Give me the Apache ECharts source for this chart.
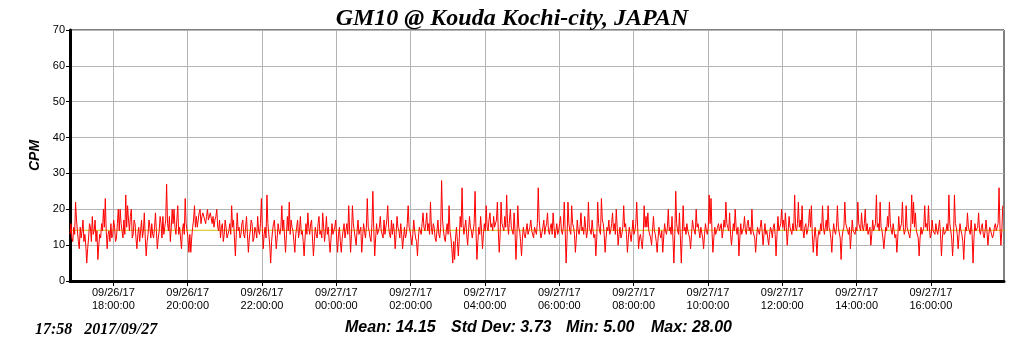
<!DOCTYPE html>
<html>
<head>
<meta charset="utf-8">
<title>GM10 @ Kouda Kochi-city, JAPAN</title>
<script src="https://cdn.jsdelivr.net/npm/echarts@6/dist/echarts.min.js"></script>
<style>
  html, body { margin: 0; padding: 0; background: #fff; }
  #container { width: 1024px; height: 351px; }
</style>
</head>
<body>
<div id="container"></div>
<script>
// counts per minute, one reading every 1.5 minutes from 09/26 16:50
var startTime = new Date(2017, 8, 26, 16, 50).getTime();
var endTime = new Date(2017, 8, 27, 17, 58).getTime();
var stepMinutes = 1.5;
var cpmValues = [
    13, 16, 12, 11, 15, 13, 22, 17, 14, 11, 9, 15, 12, 14, 17, 11, 13, 10, 5, 9,
    12, 16, 15, 11, 18, 13, 14, 17, 11, 14, 6, 10, 13, 12, 16, 14, 20, 15, 23, 14,
    9, 13, 14, 11, 16, 12, 13, 17, 15, 11, 12, 16, 20, 14, 20, 16, 14, 12, 17, 13,
    24, 15, 21, 17, 14, 18, 20, 12, 13, 17, 16, 12, 9, 13, 15, 11, 14, 17, 12, 14,
    19, 12, 7, 11, 13, 17, 15, 12, 16, 13, 12, 15, 19, 14, 9, 12, 14, 18, 16, 12,
    18, 13, 15, 17, 27, 16, 14, 18, 11, 15, 20, 16, 20, 15, 13, 17, 21, 13, 15, 12,
    9, 14, 16, 13, 23, 16, 14, 12, 8, 13, 8, 12, 15, 17, 21, 15, 18, 15, 17, 19,
    20, 16, 18, 19, 19, 17, 16, 18, 20, 17, 17, 19, 19, 16, 18, 15, 17, 18, 20, 15,
    14, 17, 12, 15, 16, 11, 13, 17, 15, 12, 12, 14, 16, 13, 21, 15, 17, 12, 7, 13,
    19, 14, 15, 12, 13, 16, 17, 13, 12, 15, 18, 13, 8, 12, 14, 17, 16, 11, 12, 15,
    14, 12, 18, 14, 13, 16, 23, 15, 9, 13, 15, 12, 24, 16, 13, 10, 5, 11, 14, 16,
    17, 13, 9, 12, 16, 14, 13, 15, 21, 14, 17, 12, 8, 13, 18, 14, 22, 13, 17, 15,
    14, 11, 8, 13, 15, 17, 12, 14, 18, 13, 14, 11, 7, 12, 16, 13, 19, 15, 13, 16,
    17, 12, 7, 11, 15, 13, 12, 16, 18, 13, 14, 12, 19, 15, 11, 14, 18, 13, 15, 11,
    8, 12, 16, 13, 13, 15, 17, 12, 8, 13, 15, 11, 8, 12, 14, 16, 12, 14, 16, 13,
    21, 14, 8, 13, 21, 16, 14, 12, 10, 14, 17, 13, 13, 15, 8, 12, 16, 14, 12, 15,
    23, 15, 14, 12, 11, 16, 25, 14, 7, 12, 16, 13, 13, 15, 18, 14, 14, 12, 17, 13,
    15, 17, 21, 15, 13, 12, 17, 13, 16, 14, 9, 13, 18, 15, 14, 12, 16, 13, 9, 12,
    15, 12, 13, 16, 21, 15, 14, 12, 10, 13, 17, 14, 12, 11, 7, 12, 15, 14, 13, 16,
    19, 15, 14, 16, 19, 14, 16, 13, 22, 15, 13, 16, 15, 12, 11, 14, 17, 13, 12, 15,
    28, 17, 14, 12, 11, 14, 16, 13, 21, 14, 12, 9, 5, 11, 6, 12, 15, 11, 7, 12,
    18, 15, 26, 16, 13, 15, 17, 13, 10, 14, 18, 15, 14, 12, 12, 16, 25, 14, 6, 11,
    15, 13, 18, 14, 9, 13, 16, 14, 21, 15, 14, 17, 19, 15, 16, 14, 18, 15, 15, 17,
    22, 14, 8, 13, 22, 16, 16, 14, 18, 15, 24, 16, 13, 17, 20, 15, 15, 13, 19, 14,
    6, 12, 21, 15, 14, 11, 7, 12, 15, 13, 12, 14, 16, 13, 13, 15, 17, 14, 14, 12,
    15, 14, 13, 16, 26, 17, 14, 12, 12, 15, 17, 13, 15, 16, 19, 14, 13, 15, 16, 13,
    19, 15, 12, 14, 16, 13, 14, 16, 18, 14, 13, 15, 22, 14, 5, 12, 22, 16, 14, 13,
    21, 16, 15, 13, 8, 12, 17, 14, 13, 15, 19, 14, 15, 13, 18, 15, 12, 14, 22, 15,
    15, 13, 17, 14, 12, 13, 7, 12, 22, 16, 14, 13, 23, 17, 16, 13, 8, 12, 15, 14,
    17, 13, 14, 16, 19, 14, 16, 13, 20, 15, 10, 13, 15, 12, 13, 15, 21, 15, 16, 13,
    8, 12, 15, 13, 11, 14, 17, 13, 14, 16, 22, 15, 9, 12, 13, 11, 9, 13, 21, 15,
    18, 15, 19, 14, 14, 12, 10, 14, 18, 14, 13, 11, 8, 12, 15, 13, 12, 14, 8, 12,
    16, 14, 13, 15, 20, 14, 15, 13, 18, 12, 5, 13, 25, 16, 14, 13, 19, 12, 5, 13,
    21, 14, 15, 13, 16, 14, 13, 12, 9, 13, 17, 15, 14, 13, 20, 15, 16, 14, 12, 15,
    15, 12, 9, 13, 16, 14, 13, 15, 24, 16, 23, 14, 8, 12, 15, 13, 13, 15, 16, 14,
    14, 16, 12, 14, 17, 15, 22, 16, 15, 14, 19, 13, 10, 13, 16, 14, 20, 15, 13, 15,
    7, 12, 16, 13, 14, 15, 18, 14, 13, 16, 17, 14, 15, 13, 20, 14, 14, 12, 8, 12,
    15, 14, 13, 15, 17, 14, 10, 13, 16, 13, 14, 12, 10, 13, 15, 14, 12, 15, 16, 13,
    7, 13, 18, 14, 15, 16, 20, 15, 17, 14, 19, 15, 10, 14, 18, 15, 15, 13, 16, 14,
    24, 15, 14, 16, 22, 15, 17, 14, 21, 14, 12, 15, 16, 13, 14, 16, 20, 15, 21, 13,
    8, 12, 15, 12, 7, 12, 14, 13, 16, 14, 21, 15, 13, 15, 17, 14, 21, 15, 14, 12,
    8, 13, 16, 14, 13, 15, 21, 15, 15, 12, 6, 12, 14, 15, 22, 16, 16, 14, 13, 15,
    9, 13, 17, 14, 14, 13, 15, 14, 22, 16, 15, 14, 19, 15, 14, 16, 20, 14, 16, 13,
    13, 15, 10, 13, 17, 14, 15, 16, 24, 15, 16, 14, 22, 15, 14, 12, 9, 12, 15, 14,
    18, 15, 22, 16, 14, 13, 16, 14, 12, 13, 8, 12, 18, 14, 15, 16, 22, 15, 13, 14,
    21, 15, 15, 13, 12, 15, 24, 16, 22, 15, 19, 14, 14, 12, 7, 12, 15, 13, 13, 15,
    21, 15, 16, 14, 21, 15, 12, 13, 17, 14, 14, 13, 16, 14, 13, 15, 17, 13, 7, 12,
    15, 13, 13, 14, 16, 14, 24, 16, 14, 12, 7, 12, 24, 16, 15, 13, 9, 13, 16, 14,
    13, 11, 6, 12, 15, 14, 19, 15, 14, 13, 17, 13, 5, 12, 16, 14, 14, 15, 19, 14,
    13, 15, 16, 13, 12, 14, 17, 14, 10, 13, 15, 14, 14, 12, 13, 15, 16, 14, 14, 16,
    26, 15, 10, 14, 21
];
// x ticks every two hours, 09/26 18:00 .. 09/27 16:00
var tickTimes = [];
for (var h = 18; h <= 40; h += 2) {
    tickTimes.push(new Date(2017, 8, 26, h, 0).getTime());
}
var yTicks = [0, 10, 20, 30, 40, 50, 60, 70];
var statMean = 14.15;
var statStdDev = 3.73;
var statMin = 5.00;
var statMax = 28.00;
var stampText = "17:58   2017/09/27";

function pad2(n) {
    return (n < 10 ? "0" : "") + n;
}
function fmtTick(value) {
    var d = new Date(value);
    return pad2(d.getMonth() + 1) + "/" + pad2(d.getDate()) + "/" + pad2(d.getFullYear() % 100) +
        "\n" + pad2(d.getHours()) + ":" + pad2(d.getMinutes()) + ":" + pad2(d.getSeconds());
}
function statText(s) {
    return { text: s, fontFamily: "Liberation Sans", fontStyle: "italic", fontWeight: "bold", fontSize: 16, fill: "#000" };
}

var cpmData = [];
for (var i = 0; i < cpmValues.length; i++) {
    cpmData.push([startTime + i * stepMinutes * 60000, cpmValues[i]]);
}
var meanData = [[startTime, statMean], [endTime, statMean]];

var dom = document.getElementById("container");
var myChart = echarts.init(dom, null, { renderer: "canvas" });
var option = {
    animation: false,
    backgroundColor: "#fff",
    title: {
        text: "GM10 @ Kouda Kochi-city, JAPAN",
        left: "center",
        top: 2,
        textStyle: {
            fontFamily: "Liberation Serif",
            fontStyle: "italic",
            fontWeight: "bold",
            fontSize: 24,
            color: "#000"
        }
    },
    grid: {
        left: 70, right: 20, top: 30, bottom: 70,
        show: true, borderColor: "#000", borderWidth: 1
    },
    xAxis: {
        type: "value",
        min: startTime,
        max: endTime,
        axisLine: { show: true, lineStyle: { color: "#000", width: 3 } },
        axisTick: { show: true, length: 5, customValues: tickTimes, lineStyle: { color: "#000", width: 1 } },
        splitLine: { show: true, lineStyle: { color: "#b4b4b4", width: 1 } },
        axisLabel: {
            customValues: tickTimes,
            formatter: fmtTick,
            color: "#000",
            fontFamily: "Liberation Sans",
            fontSize: 11,
            lineHeight: 13,
            margin: 5,
            hideOverlap: false
        }
    },
    yAxis: {
        type: "value",
        min: yTicks[0],
        max: yTicks[yTicks.length - 1],
        interval: yTicks[1] - yTicks[0],
        name: "CPM",
        nameLocation: "middle",
        nameRotate: 90,
        nameGap: 25,
        nameTextStyle: { fontFamily: "Liberation Sans", fontStyle: "italic", fontWeight: "bold", fontSize: 14, color: "#000" },
        axisLine: { show: true, lineStyle: { color: "#000", width: 3 } },
        axisTick: { show: true, length: 4, lineStyle: { color: "#000", width: 1 } },
        splitLine: { show: true, lineStyle: { color: "#b4b4b4", width: 1 } },
        axisLabel: { color: "#000", fontFamily: "Liberation Sans", fontSize: 11, margin: 5 }
    },
    series: [
        {
            type: "line",
            data: meanData,
            showSymbol: false,
            silent: true,
            z: 1,
            lineStyle: { color: "#d0c000", width: 1 }
        },
        {
            type: "line",
            data: cpmData,
            showSymbol: false,
            sampling: null,
            z: 2,
            lineStyle: { color: "#ff0000", width: 1 }
        }
    ],
    graphic: [
        {
            type: "text", left: 35, top: 322,
            style: { text: stampText, fontFamily: "Liberation Serif", fontStyle: "italic", fontWeight: "bold", fontSize: 16, fill: "#000" }
        },
        { type: "text", left: 345, top: 320, style: statText("Mean: " + statMean.toFixed(2)) },
        { type: "text", left: 451, top: 320, style: statText("Std Dev: " + statStdDev.toFixed(2)) },
        { type: "text", left: 566, top: 320, style: statText("Min: " + statMin.toFixed(2)) },
        { type: "text", left: 651, top: 320, style: statText("Max: " + statMax.toFixed(2)) }
    ]
};
myChart.setOption(option);
</script>
</body>
</html>
